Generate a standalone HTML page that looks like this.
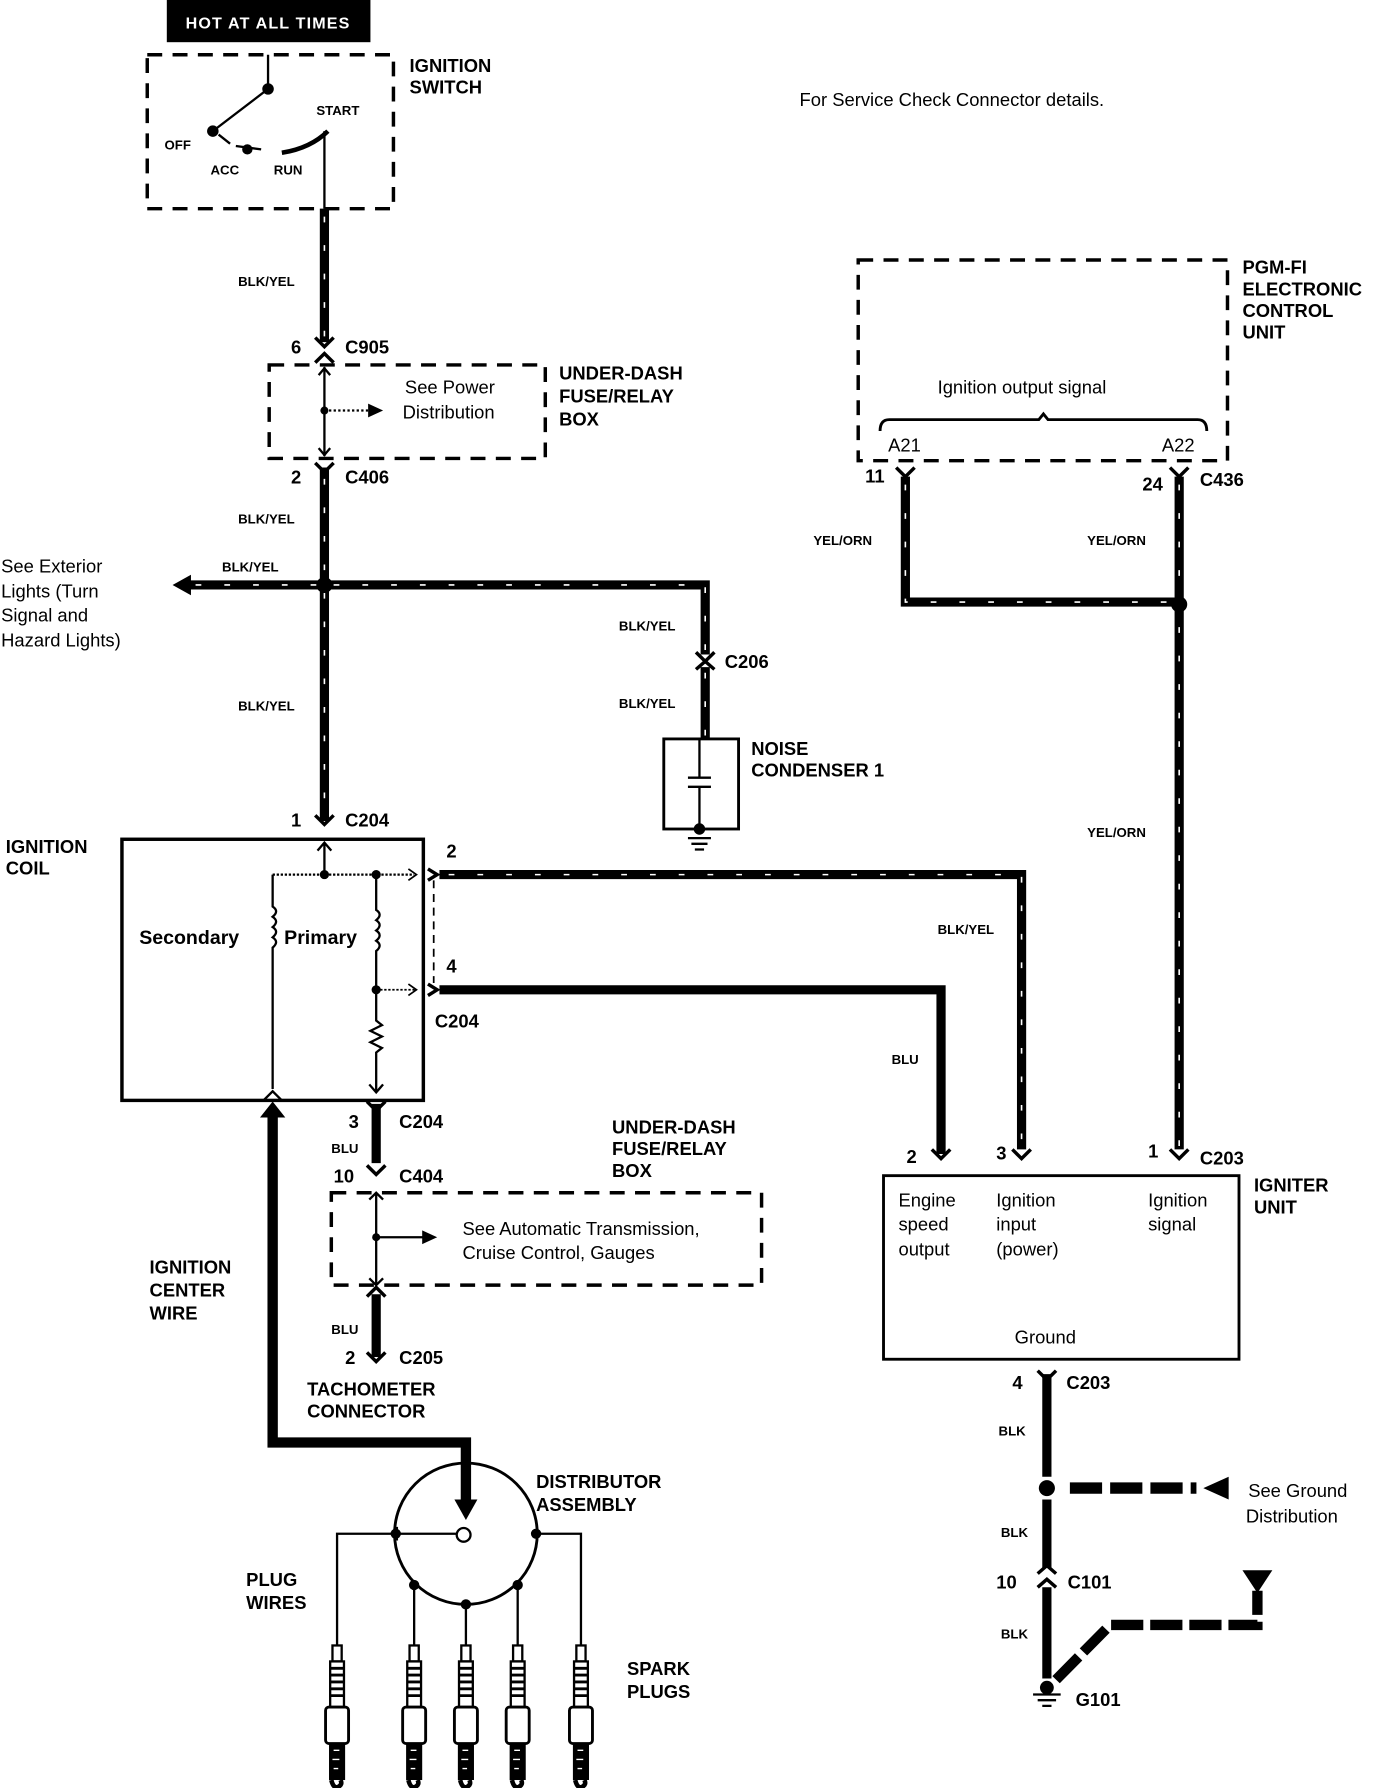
<!DOCTYPE html>
<html><head><meta charset="utf-8"><style>
html,body{margin:0;padding:0;background:#fff;}
svg{display:block;}
text{font-family:"Liberation Sans",sans-serif;fill:#000;}
.b{font-weight:bold;font-size:16px;}
.s{font-weight:bold;font-size:11.5px;}
.r{font-size:16px;}
</style></head><body>
<svg width="1392" height="1788" viewBox="0 0 1210 1568" preserveAspectRatio="none" xmlns="http://www.w3.org/2000/svg">
<defs>
<g id="plug">
<rect x="-4" y="0" width="8" height="14" fill="#fff" stroke="#000" stroke-width="2"/>
<rect x="-6" y="14" width="12" height="40" fill="#fff" stroke="#000" stroke-width="2"/>
<path d="M-6 20h12M-6 26h12M-6 32h12M-6 38h12M-6 44h12" stroke="#000" stroke-width="2.5"/>
<rect x="-10" y="54" width="20" height="32" rx="3" fill="#fff" stroke="#000" stroke-width="2.5"/>
<rect x="-7" y="86" width="14" height="32" fill="#000"/>
<path d="M-3 92h5M-4 100h6M-3 108h4" stroke="#fff" stroke-width="1.2"/>
<path d="M-5 118 q2 8 6 6 q4 -2 2 -6" stroke="#000" stroke-width="4" fill="none"/>
</g>
</defs>
<g stroke-linecap="butt">
<!-- HOT AT ALL TIMES -->
<rect x="145" y="0" width="177" height="37" fill="#000"/>
<text x="233" y="25" text-anchor="middle" style="fill:#fff;font-size:14px;font-weight:bold;letter-spacing:1px">HOT AT ALL TIMES</text>
<!-- ignition switch -->
<rect x="128" y="48" width="214" height="135" fill="none" stroke="#000" stroke-width="3" stroke-dasharray="13 9"/>
<text class="b" x="356" y="63">IGNITION</text><text class="b" x="356" y="82">SWITCH</text>
<path d="M233 48V78L185 115" stroke="#000" stroke-width="2" fill="none"/>
<circle cx="233" cy="78" r="5"/><circle cx="185" cy="115" r="5"/>
<path d="M190 118l10 8M205 128l22 3" stroke="#000" stroke-width="2"/>
<circle cx="215" cy="131" r="4.5"/>
<path d="M245 134 Q270 130 285 115" stroke="#000" stroke-width="4" fill="none"/>
<path d="M282 115V183" stroke="#000" stroke-width="2"/>
<text class="s" x="143" y="131">OFF</text><text class="s" x="183" y="153">ACC</text>
<text class="s" x="238" y="153">RUN</text><text class="s" x="275" y="101">START</text>
<!-- striped wires -->
<g fill="none" stroke="#000" stroke-width="8">
<path d="M282 183V300"/><path d="M282 410V720"/>
<path d="M282 513H163"/><path d="M282 513H613V574"/><path d="M613 585V648"/>
<path d="M382 767H888V1008"/>
<path d="M787 418V528H1025"/><path d="M1025 418V1008"/>
</g>
<g fill="none" stroke="#fff" stroke-width="1.4" stroke-dasharray="5 20">
<path d="M282 190V298"/><path d="M282 420V715"/>
<path d="M275 513H170"/><path d="M290 513H613V572"/><path d="M613 590V645"/>
<path d="M390 767H888V1005"/>
<path d="M787 425V528H1020"/><path d="M1025 425V1005"/>
</g>
<!-- solid wires -->
<g fill="none" stroke="#000" stroke-width="8">
<path d="M382 868H818V1012"/>
<path d="M327 968V1020"/><path d="M327 1135V1190"/>
<path d="M910 1205V1295"/><path d="M910 1315V1375"/><path d="M910 1392V1472"/>
</g>
<path d="M237 975V1265H405V1318" fill="none" stroke="#000" stroke-width="9"/>
<polygon points="395,1315 415,1315 405,1333" fill="#000"/>
<polygon points="226,980 248,980 237,966" fill="#000"/>
<path d="M163 513" /><polygon points="150,513 166,504 166,522" fill="#000"/>
<!-- connector chevrons -->
<g fill="none" stroke="#000" stroke-width="3">
<path d="M274 296l8 8l8-8"/><path d="M274 318l8-8l8 8"/>
<path d="M274 406l8 8l8-8"/>
<path d="M274 715l8 8l8-8"/>
<path d="M605 572l8 8l8-8"/><path d="M605 587l8-7l8 7"/>
<path d="M779 410l8 8l8-8"/><path d="M1017 410l8 8l8-8"/>
<path d="M880 1008l8 8l8-8"/><path d="M810 1008l8 8l8-8"/><path d="M1017 1008l8 8l8-8"/>
<path d="M319 966l8 8l8-8"/><path d="M319 1022l8 8l8-8"/><path d="M319 1137l8-8l8 8"/>
<path d="M319 1186l8 8l8-8"/>
<path d="M902 1202l8 8l8-8"/><path d="M902 1380l8-7l8 7"/><path d="M902 1392l8-7l8 7"/>
<path d="M372 762l8 5l-8 5"/><path d="M372 863l8 5l-8 5"/>
</g>
<circle cx="282" cy="513" r="7"/><circle cx="1025" cy="530" r="7"/><circle cx="910" cy="1305" r="7"/>
<!-- labels left -->
<text class="s" x="207" y="251">BLK/YEL</text>
<text class="b" x="253" y="310">6</text><text class="b" x="300" y="310">C905</text>
<text class="b" x="253" y="424">2</text><text class="b" x="300" y="424">C406</text>
<text class="s" x="207" y="459">BLK/YEL</text>
<text class="s" x="193" y="501">BLK/YEL</text>
<text class="s" x="207" y="623">BLK/YEL</text>
<text class="r" x="1" y="502">See Exterior</text><text class="r" x="1" y="524">Lights (Turn</text>
<text class="r" x="1" y="545">Signal and</text><text class="r" x="1" y="567">Hazard Lights)</text>
<!-- fuse box 1 -->
<rect x="234" y="320" width="240" height="82" fill="none" stroke="#000" stroke-width="3" stroke-dasharray="13 9"/>
<path d="M282 322V400" stroke="#000" stroke-width="2"/>
<path d="M277 329l5-6l5 6M277 393l5 6l5-6" fill="none" stroke="#000" stroke-width="2"/>
<circle cx="282" cy="360" r="3.5"/>
<path d="M282 360H322" stroke="#000" stroke-width="2" stroke-dasharray="2 2"/>
<polygon points="333,360 320,354 320,366"/>
<text class="r" x="352" y="345">See Power</text><text class="r" x="350" y="367">Distribution</text>
<text class="b" x="486" y="333">UNDER-DASH</text><text class="b" x="486" y="353">FUSE/RELAY</text><text class="b" x="486" y="373">BOX</text>
<!-- condenser -->
<text class="s" x="538" y="553">BLK/YEL</text><text class="b" x="630" y="586">C206</text>
<text class="s" x="538" y="621">BLK/YEL</text>
<rect x="577" y="648" width="65" height="79" fill="none" stroke="#000" stroke-width="2.5"/>
<path d="M608 648V682M598 682H618M598 690H618M608 690V724M598 735H618M601 740H615M604 745H612" stroke="#000" stroke-width="2" fill="none"/>
<circle cx="608" cy="727" r="5"/>
<text class="b" x="653" y="662">NOISE</text><text class="b" x="653" y="681">CONDENSER 1</text>
<!-- ignition coil -->
<text class="b" x="253" y="725">1</text><text class="b" x="300" y="725">C204</text>
<text class="b" x="5" y="748">IGNITION</text><text class="b" x="5" y="767">COIL</text>
<rect x="106" y="736" width="262" height="229" fill="none" stroke="#000" stroke-width="3"/>
<path d="M282 767V740M276 746l6-7l6 7" fill="none" stroke="#000" stroke-width="2"/>
<path d="M237 767H360" stroke="#000" stroke-width="2" stroke-dasharray="2 1.5"/>
<path d="M355 762l7 5l-7 5" fill="none" stroke="#000" stroke-width="1.5"/>
<circle cx="282" cy="767" r="4"/><circle cx="327" cy="767" r="4"/>
<path d="M237 767V795 q6 4 0 9 q6 4 0 9 q6 4 0 9 q6 4 0 9 V955" fill="none" stroke="#000" stroke-width="2"/>
<path d="M327 767V798 q6 4 0 9 q6 4 0 9 q6 4 0 9 q6 4 0 9 V895 l5 4 l-10 5 l10 5 l-10 5 l10 5 l-5 4 V958" fill="none" stroke="#000" stroke-width="2"/>
<path d="M321 951l6 7l6-7" fill="none" stroke="#000" stroke-width="2"/>
<circle cx="327" cy="868" r="4"/>
<path d="M327 868H362" stroke="#000" stroke-width="1.5" stroke-dasharray="2 1.5"/>
<path d="M355 863l7 5l-7 5" fill="none" stroke="#000" stroke-width="1.5"/>
<path d="M229 965l8-8l8 8" fill="none" stroke="#000" stroke-width="2"/>
<text x="121" y="828" style="font-weight:bold;font-size:17px">Secondary</text>
<text x="247" y="828" style="font-weight:bold;font-size:17px">Primary</text>
<path d="M377 772V862" stroke="#000" stroke-width="1.5" stroke-dasharray="7 5"/>
<text class="b" x="388" y="752">2</text><text class="b" x="388" y="853">4</text><text class="b" x="378" y="901">C204</text>
<text class="s" x="815" y="819">BLK/YEL</text><text class="s" x="775" y="933">BLU</text>
<!-- lower fuse box -->
<text class="b" x="303" y="989">3</text><text class="b" x="347" y="989">C204</text>
<text class="s" x="288" y="1011">BLU</text>
<text class="b" x="290" y="1037">10</text><text class="b" x="347" y="1037">C404</text>
<text class="b" x="532" y="994">UNDER-DASH</text><text class="b" x="532" y="1013">FUSE/RELAY</text><text class="b" x="532" y="1032">BOX</text>
<rect x="288" y="1046" width="374" height="81" fill="none" stroke="#000" stroke-width="3" stroke-dasharray="13 9"/>
<path d="M327 1046V1127M321 1052l6-6l6 6M321 1121l6 6l6-6" fill="none" stroke="#000" stroke-width="2"/>
<circle cx="327" cy="1085" r="3.5"/>
<path d="M327 1085H368" stroke="#000" stroke-width="2"/>
<polygon points="380,1085 367,1079 367,1091"/>
<text class="r" x="402" y="1083">See  Automatic Transmission,</text>
<text class="r" x="402" y="1104">Cruise Control, Gauges</text>
<text class="s" x="288" y="1170">BLU</text>
<text class="b" x="300" y="1196">2</text><text class="b" x="347" y="1196">C205</text>
<text class="b" x="267" y="1224">TACHOMETER</text><text class="b" x="267" y="1243">CONNECTOR</text>
<text class="b" x="130" y="1117">IGNITION</text><text class="b" x="130" y="1137">CENTER</text><text class="b" x="130" y="1157">WIRE</text>
<!-- distributor -->
<circle cx="405" cy="1345" r="62" fill="none" stroke="#000" stroke-width="2.5"/>
<path d="M345 1345H397M345 1339V1351" stroke="#000" stroke-width="2" fill="none"/>
<circle cx="403" cy="1346" r="6" fill="#fff" stroke="#000" stroke-width="2"/>
<g fill="#000"><circle cx="344" cy="1345" r="4.5"/><circle cx="466" cy="1345" r="4.5"/>
<circle cx="360" cy="1390" r="4.5"/><circle cx="405" cy="1407" r="4.5"/><circle cx="450" cy="1390" r="4.5"/></g>
<path d="M344 1345H293V1445M466 1345H505V1445M360 1390V1445M405 1407V1445M450 1390V1445" fill="none" stroke="#000" stroke-width="2"/>
<use href="#plug" x="293" y="1443"/><use href="#plug" x="360" y="1443"/><use href="#plug" x="405" y="1443"/>
<use href="#plug" x="450" y="1443"/><use href="#plug" x="505" y="1443"/>
<text class="b" x="466" y="1305">DISTRIBUTOR</text><text class="b" x="466" y="1325">ASSEMBLY</text>
<text class="b" x="214" y="1391">PLUG</text><text class="b" x="214" y="1411">WIRES</text>
<text class="b" x="545" y="1469">SPARK</text><text class="b" x="545" y="1489">PLUGS</text>
<!-- right side -->
<text class="r" x="695" y="93">For Service Check Connector details.</text>
<rect x="746" y="228" width="321" height="176" fill="none" stroke="#000" stroke-width="3" stroke-dasharray="13 9"/>
<text class="b" x="1080" y="240">PGM-FI</text><text class="b" x="1080" y="259">ELECTRONIC</text>
<text class="b" x="1080" y="278">CONTROL</text><text class="b" x="1080" y="297">UNIT</text>
<text class="r" x="815" y="345">Ignition output signal</text>
<path d="M765 378 q0 -10 8 -10 H903 l4 -5 l4 5 H1041 q8 0 8 10" fill="none" stroke="#000" stroke-width="2.5"/>
<text class="r" x="772" y="396">A21</text><text class="r" x="1010" y="396">A22</text>
<text class="b" x="752" y="423">11</text><text class="b" x="993" y="430">24</text><text class="b" x="1043" y="426">C436</text>
<text class="s" x="707" y="478">YEL/ORN</text><text class="s" x="945" y="478">YEL/ORN</text><text class="s" x="945" y="734">YEL/ORN</text>
<!-- igniter -->
<rect x="768" y="1031" width="309" height="161" fill="none" stroke="#000" stroke-width="2.5"/>
<text class="b" x="788" y="1020">2</text><text class="b" x="866" y="1017">3</text><text class="b" x="998" y="1015">1</text>
<text class="b" x="1043" y="1021">C203</text>
<text class="b" x="1090" y="1045">IGNITER</text><text class="b" x="1090" y="1064">UNIT</text>
<text class="r" x="781" y="1058">Engine</text><text class="r" x="781" y="1079">speed</text><text class="r" x="781" y="1101">output</text>
<text class="r" x="866" y="1058">Ignition</text><text class="r" x="866" y="1079">input</text><text class="r" x="866" y="1101">(power)</text>
<text class="r" x="998" y="1058">Ignition</text><text class="r" x="998" y="1079">signal</text>
<text class="r" x="882" y="1178">Ground</text>
<text class="b" x="880" y="1218">4</text><text class="b" x="927" y="1218">C203</text>
<text class="s" x="868" y="1259">BLK</text><text class="s" x="870" y="1348">BLK</text><text class="s" x="870" y="1437">BLK</text>
<path d="M930 1305H1040" stroke="#000" stroke-width="10" stroke-dasharray="28 7"/>
<polygon points="1046,1305 1068,1295 1068,1315"/>
<text class="r" x="1085" y="1313">See Ground</text><text class="r" x="1083" y="1335">Distribution</text>
<text class="b" x="866" y="1393">10</text><text class="b" x="928" y="1393">C101</text>
<path d="M918 1473L965 1425H1093V1395" fill="none" stroke="#000" stroke-width="9" stroke-dasharray="28 6"/>
<polygon points="1080,1377 1106,1377 1093,1397"/>
<circle cx="910" cy="1480" r="6"/>
<path d="M898 1486H922M902 1491H918M906 1496H914" stroke="#000" stroke-width="2"/>
<text class="b" x="935" y="1496">G101</text>
</g>
</svg>
</body></html>
